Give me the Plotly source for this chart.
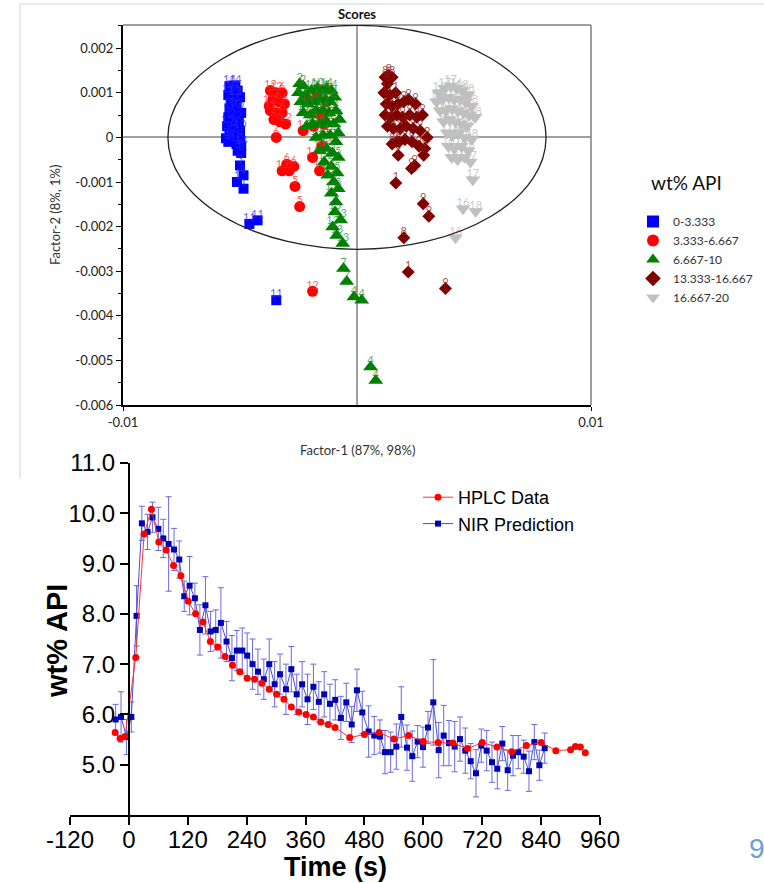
import plotly.graph_objects as go

W, H = 764, 883

# ---------------- Scores plot data (Factor-1, Factor-2) ----------------
BLUE_X = [-5.45e-3, -5.2e-3, -5.35e-3, -5.1e-3, -5.5e-3, -5.25e-3, -5.0e-3, -5.4e-3, -5.15e-3, -5.45e-3,
          -5.2e-3, -4.95e-3, -5.5e-3, -5.3e-3, -5.05e-3, -5.55e-3, -5.25e-3, -5.0e-3, -5.45e-3, -5.2e-3,
          -5.6e-3, -5.35e-3, -5.0e-3, -5.5e-3, -5.15e-3, -4.95e-3, -5.1e-3, -4.95e-3, -5.0e-3, -4.85e-3,
          -5.13e-3, -4.85e-3, -4.6e-3, -4.25e-3, -3.45e-3]
BLUE_Y = [1.15e-3, 1.15e-3, 1.05e-3, 1.05e-3, 0.95e-3, 0.9e-3, 0.9e-3, 0.8e-3, 0.75e-3, 0.65e-3,
          0.6e-3, 0.55e-3, 0.45e-3, 0.4e-3, 0.35e-3, 0.25e-3, 0.2e-3, 0.15e-3, 0.1e-3, 0.05e-3,
          -0.02e-3, -0.05e-3, -0.05e-3, -0.1e-3, -0.15e-3, -0.2e-3, -0.3e-3, -0.35e-3, -0.63e-3, -0.85e-3,
          -1.0e-3, -1.15e-3, -1.94e-3, -1.86e-3, -3.65e-3]
BLUE_ID = ["14", "14", "14", "1", "15", "15", "1", "3", "3", "10",
           "10", "9", "9", "2", "2", "15", "3", "10", "9", "2",
           "3", "1", "9", "2", "10", "14", "3", "3", "3", "1",
           "1", "1", "11", "11", "11"]

RED_X = [-3.7e-3, -3.45e-3, -3.2e-3, -3.6e-3, -3.35e-3, -3.1e-3, -3.7e-3, -3.45e-3, -3.2e-3, -3.55e-3,
         -3.3e-3, -3.05e-3, -3.75e-3, -3.45e-3, -3.0e-3, -2.9e-3, -3.2e-3, -2.7e-3, -2.65e-3, -2.45e-3,
         -2.3e-3, -1.9e-3, -1.6e-3, -1.75e-3, -1.5e-3, -1.4e-3, -2.1e-3, -1.7e-3, -1.3e-3, -1.85e-3,
         -1.55e-3, -1.9e-3]
RED_Y = [1.05e-3, 1.0e-3, 1.0e-3, 0.85e-3, 0.8e-3, 0.75e-3, 0.6e-3, 0.55e-3, 0.55e-3, 0.4e-3,
         0.35e-3, 0.3e-3, 0.7e-3, 0.0e-3, -0.6e-3, -0.75e-3, -0.75e-3, -0.65e-3, -1.1e-3, -1.55e-3,
         0.15e-3, -0.45e-3, -0.75e-3, 0.55e-3, -0.2e-3, 0.3e-3, 0.8e-3, 0.95e-3, 0.8e-3, 0.25e-3,
         0.5e-3, -3.45e-3]
RED_ID = ["12", "12", "6", "12", "6", "6", "12", "12", "6", "6",
          "6", "12", "12", "6", "6", "6", "12", "6", "5", "5",
          "14", "14", "14", "14", "14", "14", "14", "13", "13", "13",
          "13", "12"]

GREEN_X = [-2.45e-3, -2.3e-3, -2.5e-3, -2.2e-3, -1.95e-3, -1.7e-3, -1.5e-3, -1.3e-3, -1.1e-3, -2.4e-3,
           -2.1e-3, -1.85e-3, -1.6e-3, -1.35e-3, -1.15e-3, -0.95e-3, -2.3e-3, -2.0e-3, -1.75e-3, -1.45e-3,
           -1.2e-3, -0.9e-3, -0.75e-3, -2.15e-3, -1.9e-3, -1.6e-3, -1.3e-3, -1.0e-3, -0.8e-3, -1.75e-3,
           -1.45e-3, -1.15e-3, -0.9e-3, -1.6e-3, -1.3e-3, -1.05e-3, -0.8e-3, -1.4e-3, -1.1e-3, -0.85e-3,
           -1.25e-3, -1.0e-3, -0.8e-3, -1.1e-3, -0.9e-3, -0.94e-3, -0.7e-3, -1.04e-3, -0.87e-3, -0.61e-3,
           -0.58e-3, -0.44e-3, -0.13e-3, 0.2e-3, 0.58e-3, 0.8e-3]
GREEN_Y = [1.2e-3, 1.15e-3, 1.0e-3, 0.95e-3, 1.05e-3, 1.1e-3, 1.05e-3, 1.1e-3, 1.05e-3, 0.8e-3,
           0.75e-3, 0.8e-3, 0.85e-3, 0.85e-3, 0.8e-3, 0.9e-3, 0.55e-3, 0.5e-3, 0.6e-3, 0.6e-3,
           0.55e-3, 0.6e-3, 0.4e-3, 0.25e-3, 0.3e-3, 0.3e-3, 0.35e-3, 0.3e-3, 0.1e-3, 0.0e-3,
           0.05e-3, 0.05e-3, -0.1e-3, -0.3e-3, -0.25e-3, -0.35e-3, -0.45e-3, -0.55e-3, -0.65e-3, -0.8e-3,
           -0.85e-3, -1.0e-3, -1.15e-3, -1.25e-3, -1.45e-3, -1.67e-3, -1.85e-3, -2.01e-3, -2.2e-3, -2.38e-3,
           -2.94e-3, -3.23e-3, -3.58e-3, -3.65e-3, -5.15e-3, -5.45e-3]
GREEN_ID = ["2", "2", "2", "2", "10", "10", "14", "14", "14", "2",
            "10", "10", "14", "14", "14", "4", "10", "10", "10", "14",
            "14", "4", "4", "2", "10", "14", "14", "4", "5", "10",
            "14", "14", "5", "10", "14", "5", "5", "14", "5", "5",
            "13", "5", "5", "13", "5", "13", "13", "13", "13", "13",
            "7", "7", "4", "4", "4", "4"]

DRED_X = [1.2e-3, 1.35e-3, 1.5e-3, 1.3e-3, 1.15e-3, 1.4e-3, 1.65e-3, 1.25e-3, 1.5e-3, 1.75e-3,
          2.0e-3, 2.2e-3, 2.5e-3, 1.2e-3, 1.45e-3, 1.7e-3, 1.95e-3, 2.25e-3, 2.55e-3, 2.8e-3,
          1.3e-3, 1.55e-3, 1.85e-3, 2.1e-3, 2.4e-3, 2.7e-3, 3.0e-3, 1.5e-3, 1.8e-3, 2.05e-3,
          2.35e-3, 2.65e-3, 2.9e-3, 1.69e-3, 1.76e-3, 2.33e-3, 2.47e-3, 2.85e-3, 1.66e-3, 2.83e-3,
          3.07e-3, 2.0e-3, 2.19e-3, 3.78e-3]
DRED_Y = [1.35e-3, 1.4e-3, 1.35e-3, 1.2e-3, 1.0e-3, 0.95e-3, 1.0e-3, 0.75e-3, 0.7e-3, 0.75e-3,
          0.8e-3, 0.85e-3, 0.75e-3, 0.5e-3, 0.45e-3, 0.5e-3, 0.45e-3, 0.5e-3, 0.45e-3, 0.5e-3,
          0.25e-3, 0.2e-3, 0.2e-3, 0.25e-3, 0.2e-3, 0.15e-3, 0.0e-3, -0.15e-3, -0.1e-3, -0.05e-3,
          -0.1e-3, -0.2e-3, -0.25e-3, -0.1e-3, -0.4e-3, -0.7e-3, -0.63e-3, -0.4e-3, -1.02e-3, -1.49e-3,
          -1.77e-3, -2.25e-3, -3.02e-3, -3.39e-3]
DRED_ID = ["8", "8", "8", "8", "1", "1", "1", "1", "1", "9",
           "9", "9", "9", "1", "1", "9", "9", "9", "9", "9",
           "8", "8", "9", "9", "9", "9", "9", "8", "8", "9",
           "9", "9", "9", "1", "9", "9", "9", "9", "1", "9",
           "9", "8", "1", "9"]

GRAY_X = [3.5e-3, 3.75e-3, 4.0e-3, 4.25e-3, 4.5e-3, 4.75e-3, 3.4e-3, 3.65e-3, 3.9e-3, 4.15e-3,
          4.4e-3, 4.65e-3, 4.9e-3, 3.55e-3, 3.8e-3, 4.05e-3, 4.3e-3, 4.55e-3, 4.8e-3, 5.05e-3,
          3.7e-3, 3.95e-3, 4.2e-3, 4.45e-3, 4.7e-3, 3.85e-3, 4.1e-3, 4.35e-3, 4.6e-3, 4.9e-3,
          3.9e-3, 4.15e-3, 4.45e-3, 4.75e-3, 4.05e-3, 4.3e-3, 4.6e-3, 4.85e-3, 4.95e-3, 4.53e-3,
          5.07e-3, 4.21e-3]
GRAY_Y = [1.0e-3, 1.1e-3, 1.15e-3, 1.1e-3, 1.05e-3, 0.95e-3, 0.8e-3, 0.85e-3, 0.9e-3, 0.85e-3,
          0.85e-3, 0.8e-3, 0.7e-3, 0.6e-3, 0.6e-3, 0.65e-3, 0.6e-3, 0.55e-3, 0.5e-3, 0.45e-3,
          0.35e-3, 0.4e-3, 0.35e-3, 0.3e-3, 0.25e-3, 0.1e-3, 0.05e-3, 0.1e-3, 0.0e-3, -0.05e-3,
          -0.2e-3, -0.25e-3, -0.2e-3, -0.3e-3, -0.45e-3, -0.5e-3, -0.45e-3, -0.55e-3, -0.95e-3, -1.6e-3,
          -1.66e-3, -2.25e-3]
GRAY_ID = ["16", "17", "17", "16", "18", "18", "16", "17", "17", "16",
           "18", "18", "18", "16", "17", "17", "16", "18", "18", "18",
           "16", "17", "17", "18", "18", "17", "16", "18", "18", "18",
           "16", "17", "18", "18", "16", "17", "18", "17", "17", "16",
           "18", "16"]

GROUP_NAMES = ["0-3.333", "3.333-6.667", "6.667-10", "13.333-16.667", "16.667-20"]
ELLIPSE_RX = 8.08e-3
ELLIPSE_RY = 2.51e-3

# ---------------- Time course data ----------------
HPLC_T = [-28, -18, -8, 14, 31, 46, 61, 76, 91, 106, 121, 136, 151, 166, 181, 196,
          211, 226, 241, 256, 271, 286, 301, 316, 331, 346, 361, 376, 391, 406,
          420, 450, 480, 510, 540, 570, 600, 630, 660, 690, 720, 750, 780, 810, 840,
          870, 900, 910, 920, 930]
HPLC_V = [5.64, 5.52, 5.56, 7.13, 9.59, 10.08, 9.43, 9.27, 8.96, 8.76, 8.25, 8.0, 7.84, 7.45, 7.34, 7.15,
          6.98, 6.85, 6.72, 6.7, 6.62, 6.5, 6.4, 6.3, 6.15, 6.05, 6.0, 5.95, 5.85, 5.8,
          5.74, 5.54, 5.6, 5.64, 5.51, 5.58, 5.46, 5.44, 5.43, 5.32, 5.44, 5.35, 5.26, 5.38, 5.44,
          5.28, 5.3, 5.36, 5.35, 5.24]

NIR_T = [-27, -16, -5, 5, 15.6, 26.5, 38, 48, 60, 70, 81, 92, 102.6, 112.8, 123.7, 134.5,
         144.7, 156, 166.5, 177, 187.5, 199, 210, 220, 231, 241,
         252, 263, 275, 286, 297, 308, 320, 331, 342, 353, 364, 376, 387, 398,
         409.7, 420.5, 432, 443, 454, 464.7, 475.6, 488.5, 500, 511.6, 521.8, 533.4, 544.9, 555,
         566.7, 577.5, 588.4, 599.3, 609.5, 620.3, 631.3, 641.5, 652.3, 663.9, 674.7, 685.5, 696.5,
         707.3, 718.1, 729.1, 739.9, 750.7, 760.9, 771.9, 782.7, 793.5, 804.5, 815.3, 826.2, 836.4, 847.3]
NIR_V = [5.9, 5.95, 5.55, 5.95, 7.96, 9.80, 9.63, 9.92, 9.69, 9.50, 9.39, 9.28, 9.08, 8.35, 8.56, 8.31,
         7.68, 8.17, 7.65, 7.68, 7.82, 7.45, 7.12, 7.27, 7.27, 7.17,
         7.0, 6.85, 6.7, 7.0, 6.6, 6.8, 6.5, 6.9, 6.4, 6.6, 6.3, 6.55, 6.25, 6.4,
         6.21, 6.29, 5.93, 6.24, 5.80, 6.48, 6.04, 5.66, 5.58, 5.56, 5.25, 5.25, 5.36, 5.95,
         5.34, 5.17, 5.46, 5.35, 5.74, 6.24, 5.29, 5.58, 5.43, 5.36, 5.51, 5.28, 5.07,
         4.83, 5.38, 5.28, 5.05, 4.92, 5.42, 4.89, 5.18, 5.25, 5.16, 4.87, 5.45, 4.99, 5.33]
NIR_ERR = [0.3, 0.5, 0.35, 0.3, 0.6, 0.34, 0.35, 0.3, 0.43, 0.38, 0.94, 0.42, 0.37, 0.3, 0.58, 0.3,
           0.5, 0.57, 0.4, 0.4, 0.7, 0.4, 0.45, 0.4, 0.45, 0.45,
           0.5, 0.45, 0.4, 0.5, 0.45, 0.4, 0.5, 0.45, 0.4, 0.45, 0.5, 0.45, 0.4, 0.45,
           0.39, 0.4, 0.43, 0.38, 0.36, 0.42, 0.42, 0.51, 0.38, 0.33, 0.43, 0.4, 0.45, 0.6,
           0.45, 0.5, 0.32, 0.4, 0.32, 0.85, 0.55, 0.6, 0.45, 0.5, 0.44, 0.45, 0.35,
           0.47, 0.33, 0.4, 0.4, 0.4, 0.34, 0.4, 0.4, 0.33, 0.33, 0.4, 0.35, 0.3, 0.3]

X_TICKS = [-120, 0, 120, 240, 360, 480, 600, 720, 840, 960]
X_TICKTEXT = ["-120", "0", "120", "240", "360", "480", "600", "720", "840", "960"]
Y_TICKS = [5, 6, 7, 8, 9, 10, 11]
SCORE_YTICKS = [-0.006, -0.005, -0.004, -0.003, -0.002, -0.001, 0, 0.001, 0.002]
SCORE_YTEXT = ["-0.006", "-0.005", "-0.004", "-0.003", "-0.002", "-0.001", "0", "0.001", "0.002"]

# ---------------- Layout helpers (pixel -> paper) ----------------
def fx(p):
    return p / W

def fy(p):
    return 1 - p / H

TOP_L, TOP_R, TOP_T, TOP_B = 123, 591, 25, 405
BOT_L, BOT_R, BOT_T, BOT_B = 70, 600, 463, 815
BOT_YAXIS_X = 129

LATO = "Lato, 'Open Sans', sans-serif"
ARIAL = "'Liberation Sans', Arial, sans-serif"

fig = go.Figure()

groups = [
    (BLUE_X, BLUE_Y, BLUE_ID, "#0000ff", "rgba(40,40,255,0.75)", "square", 10),
    (RED_X, RED_Y, RED_ID, "#ff0000", "rgba(255,40,40,0.75)", "circle", 11),
    (GREEN_X, GREEN_Y, GREEN_ID, "#008000", "rgba(30,140,30,0.75)", "triangle-up", 13),
    (DRED_X, DRED_Y, DRED_ID, "#800000", "rgba(140,30,30,0.8)", "diamond", 10),
    (GRAY_X, GRAY_Y, GRAY_ID, "#c0c0c0", "rgba(190,190,190,0.85)", "triangle-down", 13),
]
for (gx, gy, gid, col, tcol, sym, sz), name in zip(groups, GROUP_NAMES):
    fig.add_trace(go.Scatter(x=gx, y=gy, mode="markers", name=name,
                             marker=dict(symbol=sym, size=sz, color=col, line=dict(width=0)),
                             xaxis="x", yaxis="y", legend="legend"))
    fig.add_trace(go.Scatter(x=gx, y=gy, mode="text", text=gid, textposition="top center",
                             textfont=dict(family=LATO, size=11, color=tcol),
                             showlegend=False, xaxis="x", yaxis="y", hoverinfo="skip"))

fig.add_trace(go.Scatter(
    x=NIR_T, y=NIR_V, mode="lines+markers", name="NIR Prediction",
    line=dict(color="#4b4bd6", width=1),
    marker=dict(symbol="square", size=6, color="#0000b4"),
    error_y=dict(type="data", array=NIR_ERR, color="#6a6ae0", thickness=1, width=3),
    xaxis="x2", yaxis="y2", legend="legend2", legendrank=2))
fig.add_trace(go.Scatter(
    x=HPLC_T, y=HPLC_V, mode="lines+markers", name="HPLC Data",
    line=dict(color="#ff3030", width=1),
    marker=dict(symbol="circle", size=7, color="#ff0000"),
    xaxis="x2", yaxis="y2", legend="legend2", legendrank=1))

shapes = [
    dict(type="line", xref="paper", yref="paper", x0=fx(20), x1=fx(764), y0=fy(4), y1=fy(4),
         line=dict(color="#d4d4d4", width=1)),
    dict(type="line", xref="paper", yref="paper", x0=fx(20), x1=fx(20), y0=fy(4), y1=fy(479),
         line=dict(color="#d4d4d4", width=1)),
    dict(type="line", xref="paper", yref="paper", x0=fx(TOP_L), x1=fx(TOP_R), y0=fy(TOP_T), y1=fy(TOP_T),
         line=dict(color="#7f7f7f", width=1.5)),
    dict(type="line", xref="paper", yref="paper", x0=fx(TOP_R), x1=fx(TOP_R), y0=fy(TOP_T), y1=fy(TOP_B),
         line=dict(color="#7f7f7f", width=1.5)),
    dict(type="circle", xref="x", yref="y", x0=-ELLIPSE_RX, x1=ELLIPSE_RX, y0=-ELLIPSE_RY, y1=ELLIPSE_RY,
         line=dict(color="#222222", width=1.3), layer="above"),
]


def ann(text, px, py, font, angle=0, xanchor="center"):
    return dict(text=text, x=fx(px), y=fy(py), xref="paper", yref="paper", showarrow=False,
                xanchor=xanchor, yanchor="middle", textangle=angle, font=font)


annotations = [
    ann("<b>Scores</b>", 357, 14, dict(family=LATO, size=13, color="#111")),
    ann("Factor-1 (87%, 98%)", 357, 450, dict(family=LATO, size=13, color="#333")),
    ann("Factor-2 (8%, 1%)", 55, 215, dict(family=LATO, size=13, color="#333"), angle=-90),
    ann("wt% API", 686, 182, dict(family=LATO, size=19, color="#111")),
    ann("<b>wt% API</b>", 57, 641, dict(family=ARIAL, size=29, color="#000"), angle=-90),
    ann("<b>Time (s)</b>", 335, 867, dict(family=ARIAL, size=27, color="#000")),
    ann("9", 747, 848, dict(family=ARIAL, size=28, color="#6aa0d8"), xanchor="left"),
]

fig.update_layout(
    width=W, height=H, autosize=False,
    margin=dict(l=0, r=0, t=0, b=0, autoexpand=False),
    paper_bgcolor="white", plot_bgcolor="white",
    showlegend=True,
    xaxis=dict(domain=[fx(TOP_L), fx(TOP_R)], range=[-0.01, 0.01], anchor="y", automargin=False,
               showline=True, linecolor="#000", linewidth=2, showgrid=False,
               zeroline=True, zerolinecolor="#a0a0a0", zerolinewidth=1.5,
               ticks="outside", ticklen=4, tickcolor="#000", tickvals=[-0.01, 0.01], ticktext=["-0.01", "0.01"],
               tickfont=dict(family=LATO, size=13, color="#222")),
    yaxis=dict(domain=[fy(TOP_B), fy(TOP_T)], range=[-0.006, 0.00252], anchor="x", automargin=False,
               showline=True, linecolor="#000", linewidth=2, showgrid=False,
               zeroline=True, zerolinecolor="#a0a0a0", zerolinewidth=1.5,
               ticks="outside", ticklen=5, tickcolor="#000", tickvals=SCORE_YTICKS, ticktext=SCORE_YTEXT,
               minor=dict(ticks="outside", ticklen=3, dtick=0.0005, tickcolor="#000", showgrid=False),
               tickfont=dict(family=LATO, size=13, color="#222")),
    xaxis2=dict(domain=[fx(BOT_L), fx(BOT_R)], range=[-120, 960], anchor="y2", automargin=False,
                showline=True, linecolor="#000", linewidth=2, showgrid=False, zeroline=False,
                ticks="outside", ticklen=8, tickwidth=2, tickcolor="#000",
                tickvals=X_TICKS, ticktext=X_TICKTEXT, ticklabelstandoff=-6,
                tickfont=dict(family=ARIAL, size=24, color="#000")),
    yaxis2=dict(domain=[fy(BOT_B), fy(BOT_T)], range=[4, 11], anchor="free", position=fx(BOT_YAXIS_X),
                automargin=False,
                showline=True, linecolor="#000", linewidth=2, showgrid=False, zeroline=False,
                ticks="outside", ticklen=8, tickwidth=2, tickcolor="#000", tickvals=Y_TICKS,
                tickformat=".1f", tickfont=dict(family=ARIAL, size=24, color="#000")),
    legend=dict(x=fx(633), y=fy(207), xanchor="left", yanchor="top", bgcolor="rgba(0,0,0,0)",
                font=dict(family=LATO, size=12, color="#333"), tracegroupgap=0, itemsizing="constant"),
    legend2=dict(x=fx(418), y=fy(479), xanchor="left", yanchor="top", bgcolor="rgba(0,0,0,0)",
                 font=dict(family=ARIAL, size=18, color="#000"), tracegroupgap=0),
    shapes=shapes,
    annotations=annotations,
)

fig.write_html("out.html")
